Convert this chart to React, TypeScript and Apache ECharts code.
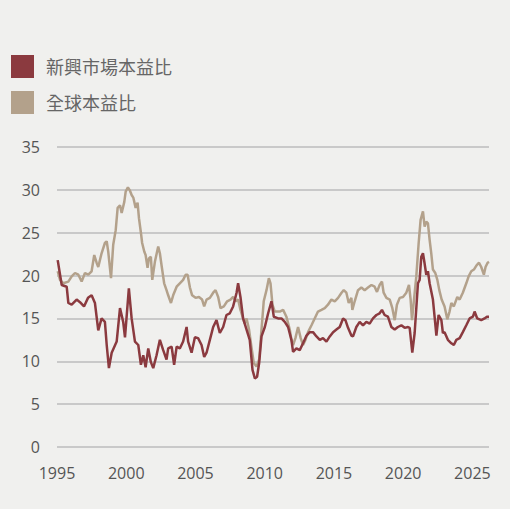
import React, { useEffect, useRef } from "react";
import * as echarts from "echarts";

const seriesNames = ["新興市場本益比", "全球本益比"];
const xTicks = [1995, 2000, 2005, 2010, 2015, 2020, 2025];

const emYears = [
  1995.05, 1995.34, 1995.7, 1995.82, 1996.06, 1996.42, 1996.66, 1996.95, 1997.24, 1997.5, 1997.74, 1997.98,
  1998.22, 1998.46, 1998.59, 1998.75, 1998.95, 1999.31, 1999.55, 1999.78, 1999.91, 2000.19, 2000.39, 2000.63,
  2000.87, 2001.06, 2001.23, 2001.4, 2001.59, 2001.78, 2001.95, 2002.19, 2002.43, 2002.67, 2002.91, 2003.03,
  2003.28, 2003.46, 2003.64, 2003.87, 2004.11, 2004.36, 2004.47, 2004.72, 2004.96, 2005.19, 2005.44, 2005.63,
  2005.8, 2006.04, 2006.28, 2006.52, 2006.76, 2007.0, 2007.24, 2007.48, 2007.72, 2007.97, 2008.08, 2008.25,
  2008.44, 2008.69, 2008.92, 2009.12, 2009.29, 2009.45, 2009.6, 2009.77, 2010.01, 2010.25, 2010.49, 2010.66,
  2010.97, 2011.21, 2011.45, 2011.69, 2011.93, 2012.05, 2012.29, 2012.53, 2012.77, 2013.02, 2013.25, 2013.49,
  2013.74, 2013.98, 2014.21, 2014.46, 2014.7, 2014.94, 2015.18, 2015.42, 2015.66, 2015.83, 2016.02, 2016.26,
  2016.38, 2016.62, 2016.86, 2017.1, 2017.34, 2017.58, 2017.82, 2018.07, 2018.3, 2018.47, 2018.66, 2018.9,
  2019.15, 2019.39, 2019.62, 2019.87, 2020.11, 2020.35, 2020.47, 2020.59, 2020.66, 2020.83, 2021.07, 2021.19,
  2021.31, 2021.43, 2021.55, 2021.67, 2021.79, 2021.91, 2022.15, 2022.27, 2022.4, 2022.56, 2022.76, 2022.87,
  2022.99, 2023.23, 2023.48, 2023.66, 2023.84, 2024.08, 2024.31, 2024.56, 2024.8, 2025.04, 2025.16, 2025.35,
  2025.64, 2025.88, 2026.05, 2026.2,
];
const emPE = [
  21.8, 18.9, 18.7, 16.8, 16.6, 17.2, 16.9, 16.4, 17.4, 17.7, 16.8, 13.6,
  15.0, 14.6, 11.9, 9.2, 11.0, 12.3, 16.2, 14.6, 12.8, 18.5, 15.0, 12.3,
  11.9, 9.6, 10.7, 9.3, 11.5, 9.9, 9.2, 10.7, 12.5, 11.3, 10.2, 11.5,
  11.7, 9.6, 11.7, 11.5, 12.3, 14.0, 12.3, 11.0, 12.8, 12.7, 11.9, 10.5,
  11.0, 12.5, 14.0, 14.8, 13.3, 14.0, 15.4, 15.6, 16.4, 18.0, 19.1, 17.5,
  15.0, 13.7, 12.5, 9.0, 8.0, 8.2, 9.8, 12.9, 14.0, 15.6, 17.0, 15.2,
  15.0, 15.0, 14.6, 14.0, 12.5, 11.1, 11.5, 11.3, 12.1, 13.0, 13.4, 13.4,
  12.9, 12.5, 12.7, 12.3, 12.9, 13.4, 13.7, 14.0, 15.0, 14.8, 13.9, 13.0,
  12.9, 14.0, 14.6, 14.2, 14.6, 14.4, 15.0, 15.4, 15.6, 16.0, 15.4, 15.2,
  14.0, 13.7, 14.0, 14.2, 13.9, 14.0, 13.9, 12.1, 11.0, 13.3, 19.1, 19.5,
  22.2, 22.6, 21.4, 20.1, 20.5, 19.1, 17.2, 15.2, 13.0, 15.4, 14.8, 13.3,
  13.4, 12.5, 12.1, 11.9, 12.5, 12.7, 13.4, 14.2, 15.0, 15.2, 15.8, 15.0,
  14.8, 15.0, 15.2, 15.2,
];

const glYears = [
  1995.05, 1995.22, 1995.45, 1995.82, 1996.06, 1996.3, 1996.54, 1996.78, 1997.02, 1997.26, 1997.5, 1997.69,
  1997.86, 1997.98, 1998.22, 1998.46, 1998.59, 1998.7, 1998.9, 1999.06, 1999.24, 1999.38, 1999.55, 1999.67,
  1999.86, 1999.96, 2000.12, 2000.27, 2000.39, 2000.51, 2000.68, 2000.82, 2000.92, 2001.06, 2001.15, 2001.3,
  2001.4, 2001.54, 2001.64, 2001.78, 2001.88, 2002.07, 2002.31, 2002.43, 2002.55, 2002.74, 2002.91, 2003.03,
  2003.23, 2003.39, 2003.64, 2003.87, 2004.11, 2004.29, 2004.43, 2004.6, 2004.76, 2005.01, 2005.25, 2005.48,
  2005.63, 2005.8, 2006.04, 2006.28, 2006.45, 2006.64, 2006.81, 2007.05, 2007.29, 2007.53, 2007.72, 2007.91,
  2008.08, 2008.25, 2008.44, 2008.56, 2008.69, 2008.87, 2009.04, 2009.21, 2009.41, 2009.6, 2009.77, 2009.93,
  2010.13, 2010.3, 2010.42, 2010.56, 2010.73, 2010.97, 2011.09, 2011.33, 2011.57, 2011.81, 2011.93, 2012.05,
  2012.22, 2012.41, 2012.6, 2012.77, 2012.94, 2013.13, 2013.38, 2013.61, 2013.85, 2014.1, 2014.34, 2014.57,
  2014.82, 2015.06, 2015.3, 2015.55, 2015.71, 2015.9, 2016.07, 2016.26, 2016.33, 2016.5, 2016.74, 2016.98,
  2017.22, 2017.46, 2017.71, 2017.94, 2018.11, 2018.3, 2018.47, 2018.59, 2018.79, 2019.03, 2019.22, 2019.39,
  2019.55, 2019.75, 2019.99, 2020.23, 2020.42, 2020.54, 2020.64, 2020.76, 2020.95, 2021.12, 2021.26, 2021.43,
  2021.55, 2021.67, 2021.79, 2021.91, 2022.03, 2022.15, 2022.32, 2022.47, 2022.61, 2022.78, 2022.99, 2023.19,
  2023.35, 2023.48, 2023.66, 2023.91, 2024.08, 2024.31, 2024.56, 2024.73, 2024.92, 2025.11, 2025.3, 2025.48,
  2025.64, 2025.83, 2025.95, 2026.1, 2026.2,
];
const glPE = [
  20.5, 19.5, 19.1, 19.3, 19.9, 20.3, 20.1, 19.3, 20.3, 20.1, 20.5, 22.4,
  21.5, 21.0, 22.6, 23.8, 24.0, 22.8, 19.7, 23.6, 25.3, 27.9, 28.2, 27.3,
  28.6, 29.8, 30.3, 29.9, 29.4, 29.1, 27.9, 28.5, 26.7, 25.0, 23.8, 22.8,
  22.4, 20.9, 22.0, 22.2, 19.5, 21.6, 23.4, 22.6, 21.2, 19.1, 18.3, 17.7,
  16.8, 17.7, 18.7, 19.1, 19.5, 20.1, 20.1, 18.6, 17.7, 17.4, 17.5, 17.2,
  16.4, 17.2, 17.4, 18.0, 18.3, 17.5, 16.2, 16.4, 17.0, 17.2, 17.5, 17.0,
  17.2, 16.0, 15.0, 14.4, 15.0, 13.7, 11.7, 9.8, 9.4, 10.2, 13.7, 17.0,
  18.3, 19.7, 19.1, 16.6, 15.8, 15.8, 15.8, 16.0, 15.2, 13.7, 12.5, 11.9,
  12.7, 14.0, 12.7, 11.9, 12.5, 13.4, 14.2, 15.0, 15.8, 16.0, 16.2, 16.6,
  17.2, 17.0, 17.4, 18.0, 18.3, 18.0, 16.8, 17.4, 16.0, 17.0, 18.3, 18.6,
  18.3, 18.6, 18.9, 18.7, 18.1, 18.9, 19.3, 18.0, 17.4, 17.2, 16.2, 14.8,
  16.6, 17.4, 17.5, 18.0, 18.9, 17.2, 14.8, 16.8, 19.9, 23.8, 26.5, 27.5,
  25.7, 26.3, 26.1, 24.2, 22.6, 20.7, 20.3, 19.5, 18.3, 17.2, 16.4, 14.9,
  15.8, 16.8, 16.4, 17.5, 17.2, 18.0, 19.1, 19.9, 20.5, 20.7, 21.2, 21.5,
  21.0, 20.1, 21.0, 21.5, 21.6,
];

const colors = ["#8b3a3f", "#b3a18b"];
const font = "'Open Sans', 'Noto Sans CJK TC', sans-serif";

export default function App() {
  const ref = useRef<HTMLDivElement>(null);
  useEffect(() => {
    document.body.style.margin = "0";
    const chart = echarts.init(ref.current!, null, { renderer: "svg" });
    chart.setOption({
      animation: false,
      backgroundColor: "#f0f0ee",
      textStyle: { fontFamily: font },
      legend: {
        data: seriesNames,
        orient: "vertical",
        left: 11,
        top: 55,
        padding: 0,
        itemGap: 13,
        itemWidth: 23,
        itemHeight: 23,
        icon: "rect",
        textStyle: { fontSize: 18, color: "#666", fontFamily: font, padding: [0, 0, 0, 7] },
      },
      grid: { left: 57, right: 21, top: 147, bottom: 62, containLabel: false },
      xAxis: {
        type: "value",
        min: 1995,
        max: 2026.2,
        interval: 5,
        axisLine: { show: false },
        axisTick: { show: false },
        splitLine: { show: false },
        axisLabel: {
          color: "#555",
          fontSize: 16,
          margin: 18,
          showMaxLabel: false,
          formatter: (v: number) => (xTicks.includes(v) ? String(v) : ""),
        },
      },
      yAxis: {
        type: "value",
        min: 0,
        max: 35,
        interval: 5,
        axisLine: { show: false },
        axisTick: { show: false },
        splitLine: { lineStyle: { color: "#bdbdbd", width: 1.5 } },
        axisLabel: { color: "#555", fontSize: 16, margin: 17 },
      },
      series: [
        {
          name: seriesNames[0],
          type: "line",
          showSymbol: false,
          data: emYears.map((y, i) => [y, emPE[i]]),
          lineStyle: { width: 2.5, color: colors[0] },
          itemStyle: { color: colors[0] },
          z: 3,
        },
        {
          name: seriesNames[1],
          type: "line",
          showSymbol: false,
          data: glYears.map((y, i) => [y, glPE[i]]),
          lineStyle: { width: 2.5, color: colors[1] },
          itemStyle: { color: colors[1] },
          z: 2,
        },
      ],
    });
    return () => chart.dispose();
  }, []);
  return <div ref={ref} style={{ width: 510, height: 509 }} />;
}
